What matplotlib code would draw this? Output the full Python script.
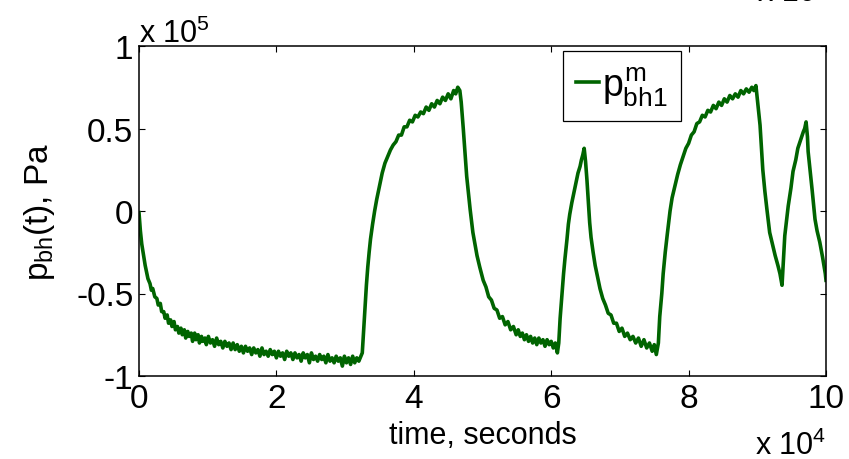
import matplotlib
matplotlib.use('agg')
import matplotlib.pyplot as plt

# time in units of 1e4 s, pressure in units of 1e5 Pa
t_1e4 = [
    0.00, 0.02, 0.04, 0.07, 0.09, 0.11, 0.13, 0.16, 0.18, 0.20, 0.23, 0.26, 0.28, 0.31, 0.33,
    0.36, 0.38, 0.41, 0.43, 0.46, 0.48, 0.51, 0.53, 0.56, 0.58, 0.61, 0.63, 0.66, 0.68, 0.71,
    0.73, 0.76, 0.78, 0.81, 0.83, 0.86, 0.88, 0.91, 0.93, 0.96, 0.98, 1.01, 1.04, 1.07, 1.10,
    1.13, 1.16, 1.19, 1.22, 1.25, 1.28, 1.31, 1.34, 1.37, 1.40, 1.43, 1.46, 1.49, 1.52, 1.55,
    1.58, 1.61, 1.64, 1.67, 1.70, 1.73, 1.76, 1.79, 1.82, 1.85, 1.88, 1.91, 1.94, 1.97, 2.00,
    2.03, 2.06, 2.09, 2.12, 2.15, 2.18, 2.21, 2.24, 2.27, 2.30, 2.33, 2.36, 2.39, 2.42, 2.45,
    2.48, 2.51, 2.54, 2.57, 2.60, 2.63, 2.66, 2.69, 2.72, 2.75, 2.78, 2.81, 2.84, 2.87, 2.90,
    2.93, 2.96, 2.99, 3.02, 3.05, 3.08, 3.11, 3.14, 3.17, 3.20, 3.23,
    3.25, 3.27, 3.29, 3.31, 3.33, 3.35, 3.37, 3.40, 3.43, 3.46, 3.50, 3.54, 3.58, 3.62, 3.66,
    3.70, 3.74, 3.78, 3.82, 3.86, 3.90, 3.94, 3.98, 4.02, 4.06, 4.10, 4.14, 4.18, 4.22, 4.26,
    4.30, 4.34, 4.38, 4.42, 4.46, 4.50, 4.54, 4.58, 4.61, 4.64, 4.67,
    4.69, 4.72, 4.75, 4.77, 4.80, 4.82, 4.86, 4.89, 4.92, 4.96, 5.01, 5.05, 5.09, 5.13, 5.17,
    5.21, 5.25, 5.29, 5.33, 5.37, 5.41, 5.45, 5.49, 5.52, 5.55, 5.58, 5.61, 5.64, 5.67, 5.70,
    5.73, 5.76, 5.79, 5.82, 5.85, 5.88, 5.91, 5.94, 5.97, 6.00, 6.03, 6.06, 6.09,
    6.11, 6.13, 6.16, 6.18, 6.20, 6.23, 6.25, 6.27, 6.30, 6.32, 6.35, 6.37, 6.39, 6.42, 6.44,
    6.46, 6.48,
    6.50, 6.52, 6.54, 6.56, 6.58, 6.61, 6.64, 6.68, 6.71, 6.75, 6.79, 6.83, 6.87, 6.91, 6.95,
    6.99, 7.03, 7.07, 7.11, 7.15, 7.19, 7.23, 7.27, 7.31, 7.35, 7.39, 7.43, 7.47, 7.50, 7.53,
    7.56, 7.58, 7.61, 7.63, 7.66, 7.69, 7.73, 7.76, 7.80, 7.84, 7.88, 7.92, 7.96, 8.00, 8.04,
    8.08, 8.12, 8.16, 8.20, 8.24, 8.28, 8.32, 8.36, 8.40, 8.44, 8.48, 8.52, 8.56, 8.60, 8.64,
    8.68, 8.72, 8.76, 8.80, 8.84, 8.88, 8.92, 8.95, 8.98,
    9.00, 9.02, 9.04, 9.06, 9.08, 9.11, 9.14, 9.18, 9.22, 9.26, 9.30, 9.33, 9.36,
    9.38, 9.40, 9.43, 9.45, 9.49, 9.52, 9.56, 9.59, 9.63, 9.67, 9.69, 9.71,
    9.73, 9.74, 9.77, 9.80, 9.84, 9.87, 9.91, 9.95, 9.99, 10.00,
]
p_1e5 = [
    -0.01, -0.12, -0.20, -0.28, -0.33, -0.37, -0.41, -0.44, -0.48, -0.47, -0.52, -0.53, -0.57, -0.56, -0.61,
    -0.61, -0.65, -0.63, -0.68, -0.66, -0.70, -0.67, -0.72, -0.70, -0.74, -0.71, -0.75, -0.72, -0.77, -0.73,
    -0.76, -0.74, -0.79, -0.74, -0.78, -0.75, -0.80, -0.76, -0.79, -0.77, -0.81, -0.76, -0.80, -0.78, -0.82,
    -0.77, -0.81, -0.79, -0.83, -0.79, -0.82, -0.80, -0.84, -0.80, -0.84, -0.81, -0.85, -0.82, -0.86, -0.82,
    -0.85, -0.83, -0.87, -0.83, -0.86, -0.84, -0.88, -0.83, -0.87, -0.85, -0.88, -0.84, -0.87, -0.85, -0.89,
    -0.85, -0.88, -0.86, -0.90, -0.85, -0.88, -0.86, -0.90, -0.86, -0.89, -0.87, -0.91, -0.86, -0.89, -0.87,
    -0.92, -0.86, -0.90, -0.88, -0.91, -0.87, -0.90, -0.88, -0.92, -0.87, -0.91, -0.89, -0.92, -0.88, -0.91,
    -0.89, -0.94, -0.88, -0.92, -0.89, -0.93, -0.88, -0.92, -0.89, -0.91, -0.88,
    -0.86, -0.72, -0.57, -0.45, -0.34, -0.25, -0.17, -0.08, 0.00, 0.07, 0.15, 0.23, 0.29, 0.33, 0.37,
    0.40, 0.42, 0.46, 0.46, 0.51, 0.51, 0.55, 0.54, 0.58, 0.57, 0.60, 0.59, 0.63, 0.61, 0.65,
    0.63, 0.67, 0.65, 0.69, 0.67, 0.71, 0.68, 0.73, 0.71, 0.75, 0.73,
    0.66, 0.50, 0.33, 0.21, 0.09, 0.01, -0.13, -0.20, -0.27, -0.34, -0.42, -0.46, -0.52, -0.54, -0.59,
    -0.60, -0.65, -0.64, -0.69, -0.67, -0.72, -0.70, -0.75, -0.72, -0.76, -0.74, -0.78, -0.75, -0.79, -0.76,
    -0.80, -0.77, -0.81, -0.77, -0.80, -0.78, -0.82, -0.78, -0.81, -0.79, -0.83, -0.80, -0.86,
    -0.80, -0.65, -0.49, -0.38, -0.29, -0.17, -0.08, -0.02, 0.05, 0.09, 0.15, 0.19, 0.23, 0.27, 0.31,
    0.34, 0.38,
    0.30, 0.19, 0.06, -0.07, -0.16, -0.25, -0.33, -0.41, -0.47, -0.53, -0.57, -0.62, -0.63, -0.68, -0.68,
    -0.73, -0.71, -0.76, -0.74, -0.78, -0.76, -0.80, -0.77, -0.82, -0.78, -0.83, -0.80, -0.85, -0.81, -0.87,
    -0.80, -0.64, -0.50, -0.38, -0.25, -0.14, 0.00, 0.08, 0.15, 0.22, 0.28, 0.33, 0.38, 0.41, 0.46,
    0.48, 0.53, 0.54, 0.58, 0.57, 0.61, 0.60, 0.64, 0.62, 0.66, 0.64, 0.68, 0.66, 0.70, 0.68,
    0.71, 0.69, 0.73, 0.71, 0.74, 0.72, 0.75, 0.73, 0.76,
    0.68, 0.60, 0.52, 0.38, 0.25, 0.12, 0.01, -0.13, -0.20, -0.27, -0.33, -0.38, -0.45,
    -0.30, -0.15, -0.04, 0.03, 0.14, 0.24, 0.31, 0.38, 0.43, 0.48, 0.50, 0.54,
    0.45, 0.36, 0.24, 0.12, -0.05, -0.12, -0.19, -0.28, -0.38, -0.42,
]

x_ticks = [0, 2, 4, 6, 8, 10]
y_ticks = [-1, -0.5, 0, 0.5, 1]
y_ticklabels = ['-1', '-0.5', '0', '0.5', '1']

plt.rcParams['font.family'] = ['Liberation Sans', 'DejaVu Sans']
plt.rcParams['mathtext.fontset'] = 'custom'
plt.rcParams['mathtext.rm'] = 'Liberation Sans'
plt.rcParams['mathtext.it'] = 'Liberation Sans'
plt.rcParams['mathtext.bf'] = 'Liberation Sans:bold'
plt.rcParams['axes.unicode_minus'] = False

fs = 22      # label size
tfs = 24     # tick label size
fig = plt.figure(figsize=(8.49, 4.60), dpi=100)
ax = fig.add_axes([139 / 849, 1 - 377 / 460, 687 / 849, 330 / 460])

ax.plot(t_1e4, p_1e5, color='#006400', lw=2.6, label='$p^{m}_{bh1}$')

ax.set_xlim(0, 10)
ax.set_ylim(-1, 1)
ax.set_xticks(x_ticks)
ax.set_xticklabels([str(v) for v in x_ticks])
ax.set_yticks(y_ticks)
ax.set_yticklabels(y_ticklabels)
ax.tick_params(direction='in', length=4, width=0.8, top=True, right=True,
               labelsize=tfs)
ax.tick_params(axis='x', pad=5)
ax.tick_params(axis='y', pad=4)
for s in ax.spines.values():
    s.set_linewidth(1.1)

ax.set_xlabel('time, seconds', fontsize=fs, labelpad=4)
ax.set_ylabel('$p_{bh}$(t), Pa', fontsize=fs + 2, labelpad=14)

# MATLAB style exponent labels
ax.text(0.0, 1.012, 'x 10$^{5}$', transform=ax.transAxes, fontsize=fs,
        ha='left', va='baseline')
ax.text(1.0, -0.235, 'x 10$^{4}$', transform=ax.transAxes, fontsize=fs,
        ha='right', va='baseline')
# clipped label from the panel above
fig.text(758 / 849, 1 - 1 / 460, 'x 10', fontsize=fs, ha='left', va='baseline')

leg = ax.legend(loc='upper right', bbox_to_anchor=(0.789, 0.985), borderaxespad=0,
                fontsize=fs + 5, handlelength=0.6, handletextpad=0.1,
                fancybox=False, framealpha=1, edgecolor='black', borderpad=0.35)
leg.get_frame().set_linewidth(0.9)

fig.savefig('out.png', dpi=100)
